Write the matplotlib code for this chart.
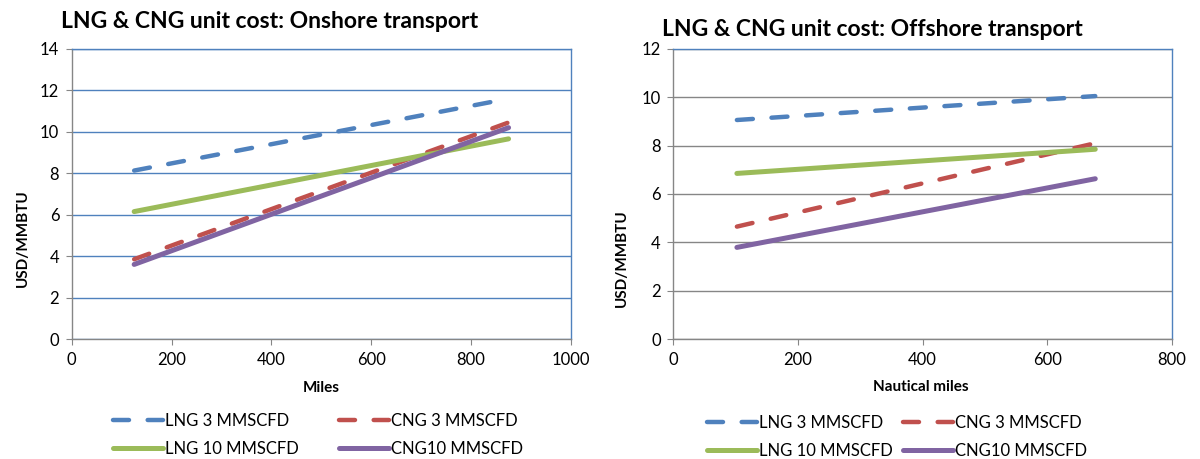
import matplotlib.pyplot as plt

plt.rcParams['font.family'] = ['Lato', 'DejaVu Sans']

# onshore (miles)
on_x = [125, 875]
on_lng3 = [8.13, 11.6]
on_cng3 = [3.85, 10.45]
on_lng10 = [6.15, 9.66]
on_cng10 = [3.6, 10.2]

# offshore (nautical miles)
off_x = [102, 677]
off_lng3 = [9.06, 10.05]
off_cng3 = [4.65, 8.1]
off_lng10 = [6.85, 7.85]
off_cng10 = [3.79, 6.63]

names = ["LNG 3 MMSCFD", "CNG 3 MMSCFD", "LNG 10 MMSCFD", "CNG10 MMSCFD"]
blue, red, green, purple = "#4F81BD", "#C0504D", "#9BBB59", "#8064A2"
gray = "#868686"

fig = plt.figure(figsize=(12, 4.59), dpi=100)
ax1 = fig.add_axes([0.0598, 0.2614, 0.416, 0.632])
ax2 = fig.add_axes([0.5611, 0.2614, 0.4155, 0.632])

def draw(ax, x, lng3, cng3, lng10, cng10):
    h1, = ax.plot(x, lng3, color=blue, lw=3.2, dashes=(3.6, 4.2), dash_capstyle='round', label=names[0])
    h2, = ax.plot(x, cng3, color=red, lw=3.2, dashes=(3.6, 4.2), dash_capstyle='round', label=names[1])
    h3, = ax.plot(x, lng10, color=green, lw=3.6, solid_capstyle='round', label=names[2])
    h4, = ax.plot(x, cng10, color=purple, lw=3.6, solid_capstyle='round', label=names[3])
    return [h1, h3, h2, h4]

hs1 = draw(ax1, on_x, on_lng3, on_cng3, on_lng10, on_cng10)
hs2 = draw(ax2, off_x, off_lng3, off_cng3, off_lng10, off_cng10)

ax1.set_xlim(0, 1000)
ax1.set_ylim(0, 14)
ax1.set_xticks(range(0, 1001, 200))
ax1.set_yticks(range(0, 15, 2))
ax2.set_xlim(0, 800)
ax2.set_ylim(0, 12)
ax2.set_xticks(range(0, 801, 200))
ax2.set_yticks(range(0, 13, 2))

for ax, gc in [(ax1, blue), (ax2, gray)]:
    ax.grid(axis='y', color=gc, lw=1)
    ax.set_axisbelow(True)
    ax.spines['top'].set_color(blue)
    ax.spines['right'].set_color(blue)
    ax.spines['left'].set_color(gray)
    ax.spines['bottom'].set_color(gray)
    for s in ax.spines.values():
        s.set_linewidth(1)
    ax.tick_params(direction='out', length=4, color=gray, labelsize=12, pad=5)

fig.text(0.2245, 1 - 22 / 459, "LNG & CNG unit cost: Onshore transport", fontsize=16.5, fontweight='bold', ha='center', va='center')
fig.text(0.7267, 1 - 30 / 459, "LNG & CNG unit cost: Offshore transport", fontsize=16.5, fontweight='bold', ha='center', va='center')

fig.text(0.2675, 1 - 388 / 459, "Miles", fontsize=11, fontweight='bold', ha='center', va='center')
fig.text(0.7675, 1 - 387 / 459, "Nautical miles", fontsize=11, fontweight='bold', ha='center', va='center')
fig.text(23 / 1200, 1 - 238 / 459, "USD/MMBTU", fontsize=11, fontweight='bold', rotation=90, ha='center', va='center')
fig.text(622 / 1200, 1 - 258 / 459, "USD/MMBTU", fontsize=11, fontweight='bold', rotation=90, ha='center', va='center')

fig.legend(handles=hs1, ncol=2, loc='center', bbox_to_anchor=(318 / 1200, 1 - 435 / 459),
           frameon=False, fontsize=12, handlelength=3.0, handletextpad=0.1,
           columnspacing=2.4, labelspacing=0.75)
fig.legend(handles=hs2, ncol=2, loc='center', bbox_to_anchor=(897 / 1200, 1 - 437 / 459),
           frameon=False, fontsize=12, handlelength=3.0, handletextpad=0.1,
           columnspacing=0.6, labelspacing=0.75)

fig.savefig("out.png", dpi=100)
